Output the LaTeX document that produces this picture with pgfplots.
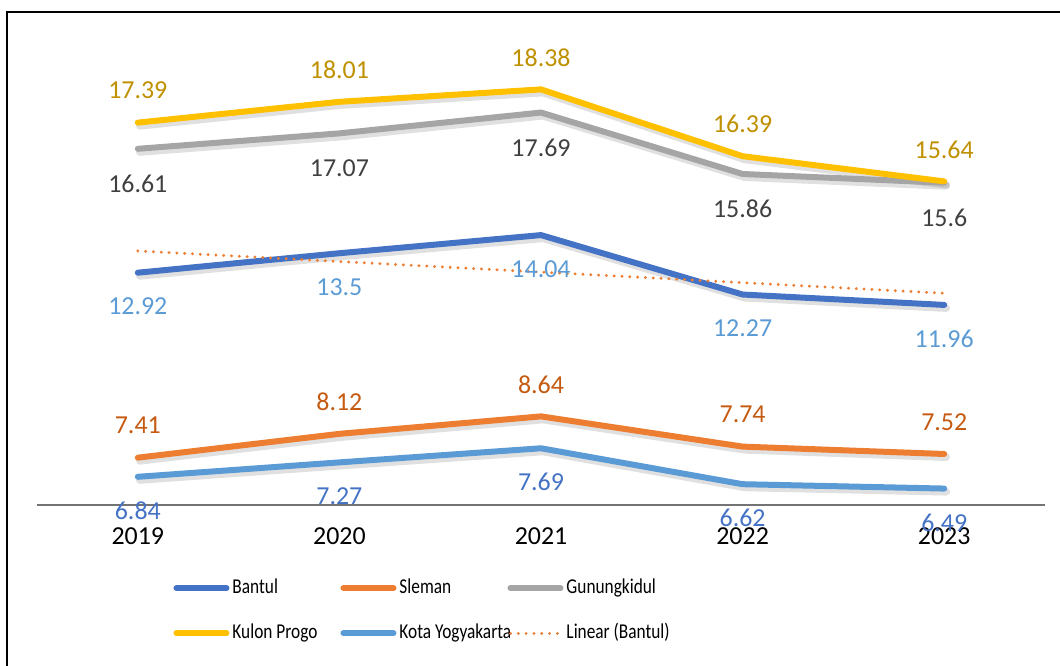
\documentclass[border=0pt]{standalone}
\usepackage{fontspec}
\setmainfont{Carlito}
\usepackage{graphicx}
\usepackage{pgfplots}
\pgfplotsset{compat=1.18}
\definecolor{cBantul}{HTML}{4472C4}
\definecolor{cSleman}{HTML}{ED7D31}
\definecolor{cGunung}{HTML}{A5A5A5}
\definecolor{cKulon}{HTML}{FFC000}
\definecolor{cKota}{HTML}{5B9BD5}
\definecolor{lKulon}{HTML}{BF9000}
\definecolor{lGunung}{HTML}{404040}
\definecolor{lSleman}{HTML}{C55A11}
\pgfplotstableread{
x y
0 12.92
1 13.50
2 14.04
3 12.27
4 11.96
}\bantul
\pgfplotstableread{
x y
0 7.41
1 8.12
2 8.64
3 7.74
4 7.52
}\sleman
\pgfplotstableread{
x y
0 16.61
1 17.07
2 17.69
3 15.86
4 15.60
}\gunung
\pgfplotstableread{
x y
0 17.39
1 18.01
2 18.38
3 16.39
4 15.64
}\kulon
\pgfplotstableread{
x y
0 6.84
1 7.27
2 7.69
3 6.62
4 6.49
}\kota
\pgfplotstableread{
x y
0 13.568
4 12.308
}\trend
\newcommand{\leg}[1]{\makebox[52.5bp][l]{\scalebox{0.82}[1]{#1}}}
\begin{document}
\fontsize{13}{15}\selectfont
\begin{tikzpicture}[x=0.5bp,y=-0.5bp]
\useasboundingbox (0,0) rectangle (1060,666);
\draw[line width=1.1bp] (7,700) -- (7,12) -- (1100,12);
\begin{axis}[
  at={(18.5bp,-252.5bp)}, anchor=south west,
  width=504bp, height=235bp, scale only axis,
  xmin=-0.5, xmax=4.5, ymin=6, ymax=20,
  axis x line*=bottom, axis y line=none,
  x axis line style={draw=black!55, line width=0.9bp},
  xtick={0,1,2,3,4}, xticklabels={2019,2020,2021,2022,2023},
  major tick length=0pt,
  xticklabel style={font=\fontsize{13}{15}\selectfont, text=black, anchor=north, yshift=-7bp},
  ytick=\empty,
  clip=false,
  point meta=y,
  legend columns=3,
  legend style={draw=none, fill=none, at={(0.135,-0.15)}, anchor=north west,
    inner sep=0pt, row sep=10bp, font=\fontsize{10.6}{12}\selectfont,
    nodes={inner sep=1.5bp}},
  legend image code/.code={\draw[#1, line cap=round] (0bp,0bp) -- (25bp,0bp);},
  every axis plot/.append style={line cap=round, line join=round},
  shadow/.style={forget plot, draw=black, opacity=0.12, line width=3.8bp, xshift=1bp, yshift=-1.6bp},
  lbl/.style={nodes near coords={\pgfmathprintnumber[fixed,precision=2,assume math mode=true]{\pgfplotspointmeta}},
     every node near coord/.style={text=#1, anchor=center, font=\fontsize{13}{15}\selectfont}},
]
% shadows
\addplot[shadow] table {\bantul};
\addplot[shadow] table {\sleman};
\addplot[shadow] table {\gunung};
\addplot[shadow] table {\kulon};
\addplot[shadow] table {\kota};
\addplot[cBantul, line width=3bp, lbl=cKota, every node near coord/.append style={yshift=-17bp}] table {\bantul};
\addlegendentry{\leg{Bantul}}
\addplot[cSleman, line width=3bp, lbl=lSleman, every node near coord/.append style={yshift=16bp}] table {\sleman};
\addlegendentry{\leg{Sleman}}
\addplot[cGunung, line width=3bp, lbl=lGunung, every node near coord/.append style={yshift=-17.5bp}] table {\gunung};
\addlegendentry{\leg{Gunungkidul}}
\addplot[cKulon, line width=3bp, lbl=lKulon, every node near coord/.append style={yshift=16bp}] table {\kulon};
\addlegendentry{\leg{Kulon Progo}}
\addplot[cKota, line width=3bp, lbl=cBantul, every node near coord/.append style={yshift=-17bp}] table {\kota};
\addlegendentry{\leg{Kota Yogyakarta}}
\addplot[cSleman, line width=1.6bp, dash pattern=on 0.01bp off 3.9bp] table {\trend};
\addlegendentry{\leg{Linear (Bantul)}}
\end{axis}
\end{tikzpicture}
\end{document}
